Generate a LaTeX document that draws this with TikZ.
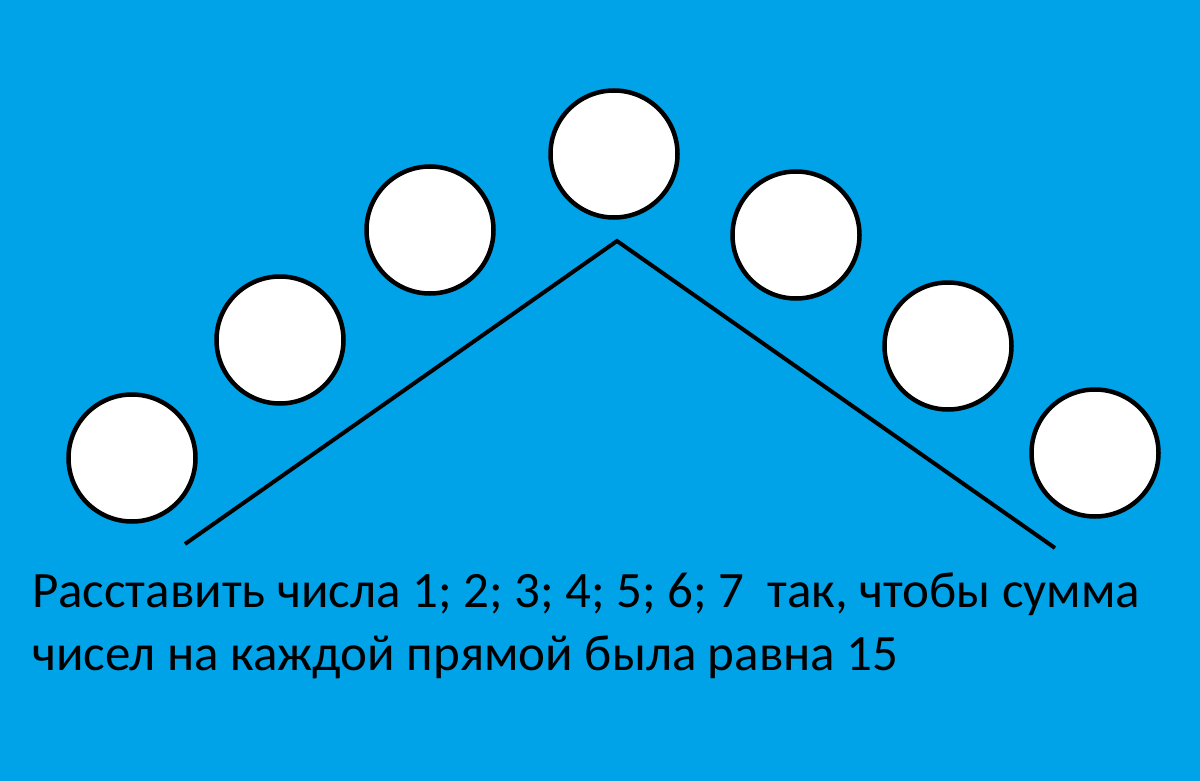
\documentclass[tikz,border=0pt]{standalone}
\usepackage{fontspec}
\setmainfont{Carlito}
\usetikzlibrary{positioning}
\definecolor{sky}{RGB}{0,162,232}
\tikzset{ball/.style={circle, draw=black, fill=white, line width=4.5pt, minimum size=127pt, inner sep=0pt},
  roof/.style={black, line width=4pt},
  task/.style={anchor=base west, inner sep=0pt, font=\fontsize{51pt}{60pt}\selectfont}}

\begin{document}
\begin{tikzpicture}[x=1pt,y=-1pt]
   \fill[sky] (0,0) rectangle (1200,781);
   \useasboundingbox (0,0) rectangle (1200,781);
   \foreach \x/\y [count=\i] in {132/458, 280/340, 430/230, 614/154, 796/235, 948/346, 1095/453}
     \node[ball] (c\i) at (\x,\y) {};
   \coordinate (left) at (185,544);
   \coordinate (top) at (617,241);
   \coordinate (right) at (1055,548);
   \draw[roof] (left) -- (top) -- (right);
   \node[task] (t1) at (32,607) {Расставить числа 1; 2; 3; 4; 5; 6; 7\ \ так, чтобы сумма};
   \node[task] (t2) at (32,670) {чисел на каждой прямой была равна 15};
\end{tikzpicture}
\end{document}
